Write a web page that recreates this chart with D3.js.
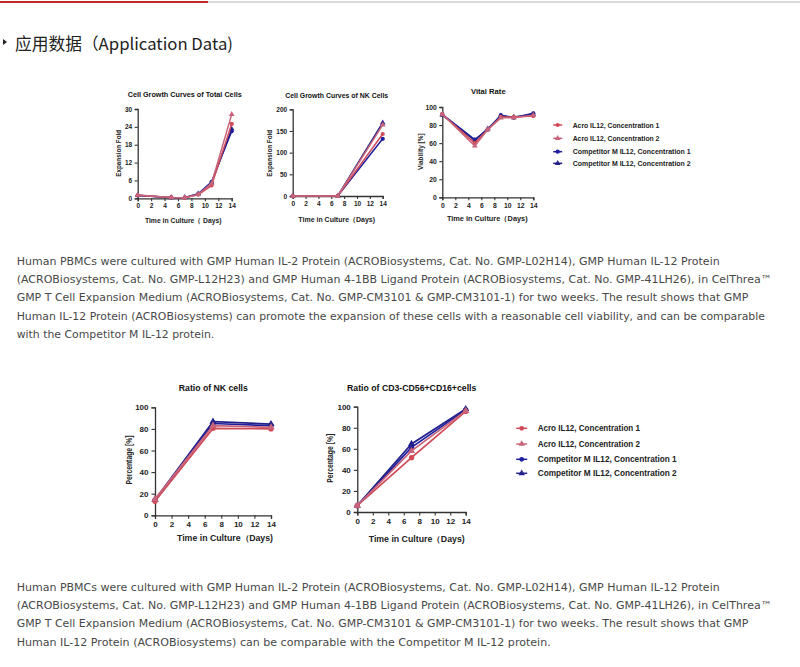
<!DOCTYPE html>
<html><head><meta charset="utf-8">
<script src="https://cdn.jsdelivr.net/npm/d3@7/dist/d3.min.js"></script>
<style>html,body{margin:0;padding:0;background:#fff;}svg{display:block;}</style>
</head><body>
<svg id="c" width="800" height="667"></svg>
<script>
// ---------- data ----------
const seriesNames = ["Acro IL12, Concentration 1","Acro IL12, Concentration 2","Competitor M IL12, Concentration 1","Competitor M IL12, Concentration 2"];
const seriesColors = ["#d04a58","#c8647a","#1e1ea0","#22228a"];
const xTicks = [0,2,4,6,8,10,12,14];

const totalDays = [0,5,7,9,11,14];
const totalAcro1 = [1.0,0.3,0.2,1.2,4.3,25.0];
const totalAcro2 = [1.1,0.3,0.2,1.3,5.0,28.2];
const totalComp1 = [0.9,0.3,0.2,1.4,5.5,22.5];
const totalComp2 = [1.0,0.2,0.3,1.5,5.2,23.3];
const totalYTicks = [0,6,12,18,24,30];

const nkDays = [0,7,14];
const nkAcro1 = [0,0,143];
const nkAcro2 = [0,0,164];
const nkComp1 = [0,0,132];
const nkComp2 = [0,0,169];
const nkYTicks = [0,50,100,150,200];

const vitalDays = [0,5,7,9,11,14];
const vitalAcro1 = [92,60,75,89,89,90];
const vitalAcro2 = [92,57,75,88,88,91];
const vitalComp1 = [92,64,75,91,88,93];
const vitalComp2 = [91,63,76,90,89,92];
const pctYTicks = [0,20,40,60,80,100];

const ratioDays = [0,7,14];
const ratioAcro1 = [13,80.5,80];
const ratioAcro2 = [15,83,81.5];
const ratioComp1 = [14,85,83];
const ratioComp2 = [14.5,86.7,84.5];

const cdDays = [0,7,14];
const cdAcro1 = [6,51.6,95.5];
const cdAcro2 = [6,58,96];
const cdComp1 = [6,61.4,97];
const cdComp2 = [6,64.6,97.8];

const para1 = [
 "Human PBMCs were cultured with GMP Human IL-2 Protein (ACROBiosystems, Cat. No. GMP-L02H14), GMP Human IL-12 Protein",
 "(ACROBiosystems, Cat. No. GMP-L12H23) and GMP Human 4-1BB Ligand Protein (ACROBiosystems, Cat. No. GMP-41LH26), in CelThrea\u2122",
 "GMP T Cell Expansion Medium (ACROBiosystems, Cat. No. GMP-CM3101 & GMP-CM3101-1) for two weeks. The result shows that GMP",
 "Human IL-12 Protein (ACROBiosystems) can promote the expansion of these cells with a reasonable cell viability, and can be comparable",
 "with the Competitor M IL-12 protein."
];
const para2 = [
 "Human PBMCs were cultured with GMP Human IL-2 Protein (ACROBiosystems, Cat. No. GMP-L02H14), GMP Human IL-12 Protein",
 "(ACROBiosystems, Cat. No. GMP-L12H23) and GMP Human 4-1BB Ligand Protein (ACROBiosystems, Cat. No. GMP-41LH26), in CelThrea\u2122",
 "GMP T Cell Expansion Medium (ACROBiosystems, Cat. No. GMP-CM3101 & GMP-CM3101-1) for two weeks. The result shows that GMP",
 "Human IL-12 Protein (ACROBiosystems) can be comparable with the Competitor M IL-12 protein."
];

// ---------- drawing ----------
const svg = d3.select("#c");
svg.append("rect").attr("width",800).attr("height",667).attr("fill","#fff");

// header lines
svg.append("line").attr("x1",208).attr("x2",800).attr("y1",2).attr("y2",2).attr("stroke","#cfcfcf").attr("stroke-width",1.5);
svg.append("line").attr("x1",0).attr("x2",208).attr("y1",2).attr("y2",2).attr("stroke","#c0282e").attr("stroke-width",2);
svg.append("path").attr("d","M3,39 L7,42 L3,45 Z").attr("fill","#222");
svg.append("text").attr("x",15).attr("y",49.5).attr("font-family","'Noto Sans CJK SC',sans-serif")
  .attr("font-size",16.5).attr("fill","#222").attr("textLength",218).attr("lengthAdjust","spacingAndGlyphs")
  .text("应用数据（Application Data)");

function fitText(t, w){ t.attr("textLength",w).attr("lengthAdjust","spacingAndGlyphs"); return t; }

function paragraph(lines, ys, widths){
  lines.forEach((s,i)=>{
    const t = svg.append("text").attr("x",16.7).attr("y",ys[i]+3.7)
      .attr("font-family","'DejaVu Sans',Verdana,sans-serif").attr("font-size",10.3).attr("fill","#484848").text(s);
    fitText(t, widths[i]);
  });
}
paragraph(para1,[261,279.3,297.7,316,334.3],[703,755,731.6,748.3,197.6]);
paragraph(para2,[587,605.3,623.7,642],[703,755,731.6,534]);

const FONT = "'Liberation Sans',Arial,sans-serif";

function chart(cfg){
  const x = d3.scaleLinear().domain([0,14]).range([cfg.x0,cfg.x1]);
  const y = d3.scaleLinear().domain(cfg.ydom).range([cfg.yBot,cfg.yTop]);
  const g = svg.append("g");
  const xa = g.append("g").attr("transform",`translate(0,${cfg.yBot})`)
    .call(d3.axisBottom(x).tickValues(xTicks).tickSize(cfg.tick).tickPadding(cfg.pad).tickFormat(d3.format("d")));
  const ya = g.append("g").attr("transform",`translate(${cfg.x0},0)`)
    .call(d3.axisLeft(y).tickValues(cfg.yticks).tickSize(cfg.tick).tickPadding(cfg.pad).tickFormat(d3.format("d")));
  [xa,ya].forEach(a=>{
    a.select(".domain").attr("stroke","#333").attr("stroke-width",1.3);
    a.selectAll(".tick line").attr("stroke","#333").attr("stroke-width",1.1);
    a.selectAll(".tick text").attr("font-family",FONT).attr("font-weight","bold").attr("font-size",cfg.tf).attr("fill","#222");
  });
  fitText(g.append("text").attr("x",cfg.title[0]).attr("y",cfg.title[1]+cfg.ttf*0.35).attr("text-anchor","middle")
    .attr("font-family",FONT).attr("font-weight","bold").attr("font-size",cfg.ttf).attr("fill","#111").text(cfg.titleText), cfg.title[2]);
  fitText(g.append("text").attr("x",cfg.xl[0]).attr("y",cfg.xl[1]+cfg.lf*0.35).attr("text-anchor","middle")
    .attr("font-family",FONT).attr("font-weight","bold").attr("font-size",cfg.lf).attr("fill","#222").text(cfg.xlText), cfg.xl[2]);
  fitText(g.append("text").attr("transform",`translate(${cfg.yl[0]+cfg.lf*0.35},${cfg.yl[1]}) rotate(-90)`).attr("text-anchor","middle")
    .attr("font-family",FONT).attr("font-weight","bold").attr("font-size",cfg.lf).attr("fill","#222").text(cfg.ylText), cfg.yl[2]);
  const order = [2,3,0,1];
  order.forEach(i=>{
    const vals = cfg.series[i];
    const pts = cfg.days.map((d,j)=>[d,vals[j]]);
    g.append("path").datum(pts).attr("fill","none").attr("stroke",seriesColors[i]).attr("stroke-width",cfg.lw)
      .attr("d",d3.line().x(d=>x(d[0])).y(d=>y(d[1])));
    g.selectAll(null).data(pts).enter().append("path")
      .attr("transform",d=>`translate(${x(d[0])},${y(d[1])})`)
      .attr("d",d3.symbol().type(i%2===0?d3.symbolCircle:d3.symbolTriangle).size(cfg.ms))
      .attr("fill",seriesColors[i]);
  });
}

chart({x0:137.7,x1:231.7,yTop:109,yBot:198.3,ydom:[0,30],yticks:totalYTicks,tick:3,pad:2.5,tf:6.5,ttf:7.8,lf:7,lw:1.5,ms:14,
  title:[184.7,94,114],titleText:"Cell Growth Curves of Total Cells",
  xl:[183.3,221,76.7],xlText:"Time in Culture（ Days)",
  yl:[118.3,153.3,46.7],ylText:"Expansion Fold",
  days:totalDays,series:[totalAcro1,totalAcro2,totalComp1,totalComp2]});
chart({x0:292.7,x1:382.7,yTop:109.3,yBot:196,ydom:[0,200],yticks:nkYTicks,tick:3,pad:2.5,tf:6.5,ttf:7.8,lf:7,lw:1.5,ms:14,
  title:[336.7,95,103],titleText:"Cell Growth Curves of NK Cells",
  xl:[336.7,220,76.7],xlText:"Time in Culture（Days)",
  yl:[270,153.3,46.7],ylText:"Expansion Fold",
  days:nkDays,series:[nkAcro1,nkAcro2,nkComp1,nkComp2]});
chart({x0:442.3,x1:533.3,yTop:107,yBot:197.3,ydom:[0,100],yticks:pctYTicks,tick:3,pad:2.5,tf:6.8,ttf:7.8,lf:7,lw:1.5,ms:14,
  title:[488.3,91.7,34.7],titleText:"Vital Rate",
  xl:[487.3,218.3,80.7],xlText:"Time in Culture（Days)",
  yl:[420.7,151.7,36.7],ylText:"Viability [%]",
  days:vitalDays,series:[vitalAcro1,vitalAcro2,vitalComp1,vitalComp2]});
chart({x0:155,x1:271,yTop:407.3,yBot:515.3,ydom:[0,100],yticks:pctYTicks,tick:3.5,pad:3,tf:8,ttf:8.8,lf:8.2,lw:1.7,ms:22,
  title:[213.3,388.3,69],titleText:"Ratio of NK cells",
  xl:[225,538.3,96],xlText:"Time in Culture（Days)",
  yl:[129.3,460,49],ylText:"Percentage [%]",
  days:ratioDays,series:[ratioAcro1,ratioAcro2,ratioComp1,ratioComp2]});
chart({x0:357.3,x1:465.7,yTop:406.7,yBot:512,ydom:[0,100],yticks:pctYTicks,tick:3.5,pad:3,tf:8,ttf:8.8,lf:8.2,lw:1.7,ms:22,
  title:[411.7,388.3,129.3],titleText:"Ratio of CD3-CD56+CD16+cells",
  xl:[416.7,539,96],xlText:"Time in Culture（Days)",
  yl:[330,458.3,49],ylText:"Percentage [%]",
  days:cdDays,series:[cdAcro1,cdAcro2,cdComp1,cdComp2]});

function legend(mx, tx, ys, fs, wAcro, wComp, half, ms){
  seriesNames.forEach((n,i)=>{
    svg.append("line").attr("x1",mx-half).attr("x2",mx+half).attr("y1",ys[i]).attr("y2",ys[i])
      .attr("stroke",seriesColors[i]).attr("stroke-width",1.5);
    svg.append("path").attr("transform",`translate(${mx},${ys[i]})`)
      .attr("d",d3.symbol().type(i%2===0?d3.symbolCircle:d3.symbolTriangle).size(ms)).attr("fill",seriesColors[i]);
    fitText(svg.append("text").attr("x",tx).attr("y",ys[i]+fs*0.35).attr("font-family",FONT).attr("font-weight","bold")
      .attr("font-size",fs).attr("fill","#222").text(n), i<2?wAcro:wComp);
  });
}
legend(557.7,572.7,[125,138.3,151.7,163.3],7.8,86.7,118,4.5,14);
legend(521.7,537.7,[428.3,444,459.3,473.3],8.8,102.3,139,5.5,18);
</script>
</body></html>
